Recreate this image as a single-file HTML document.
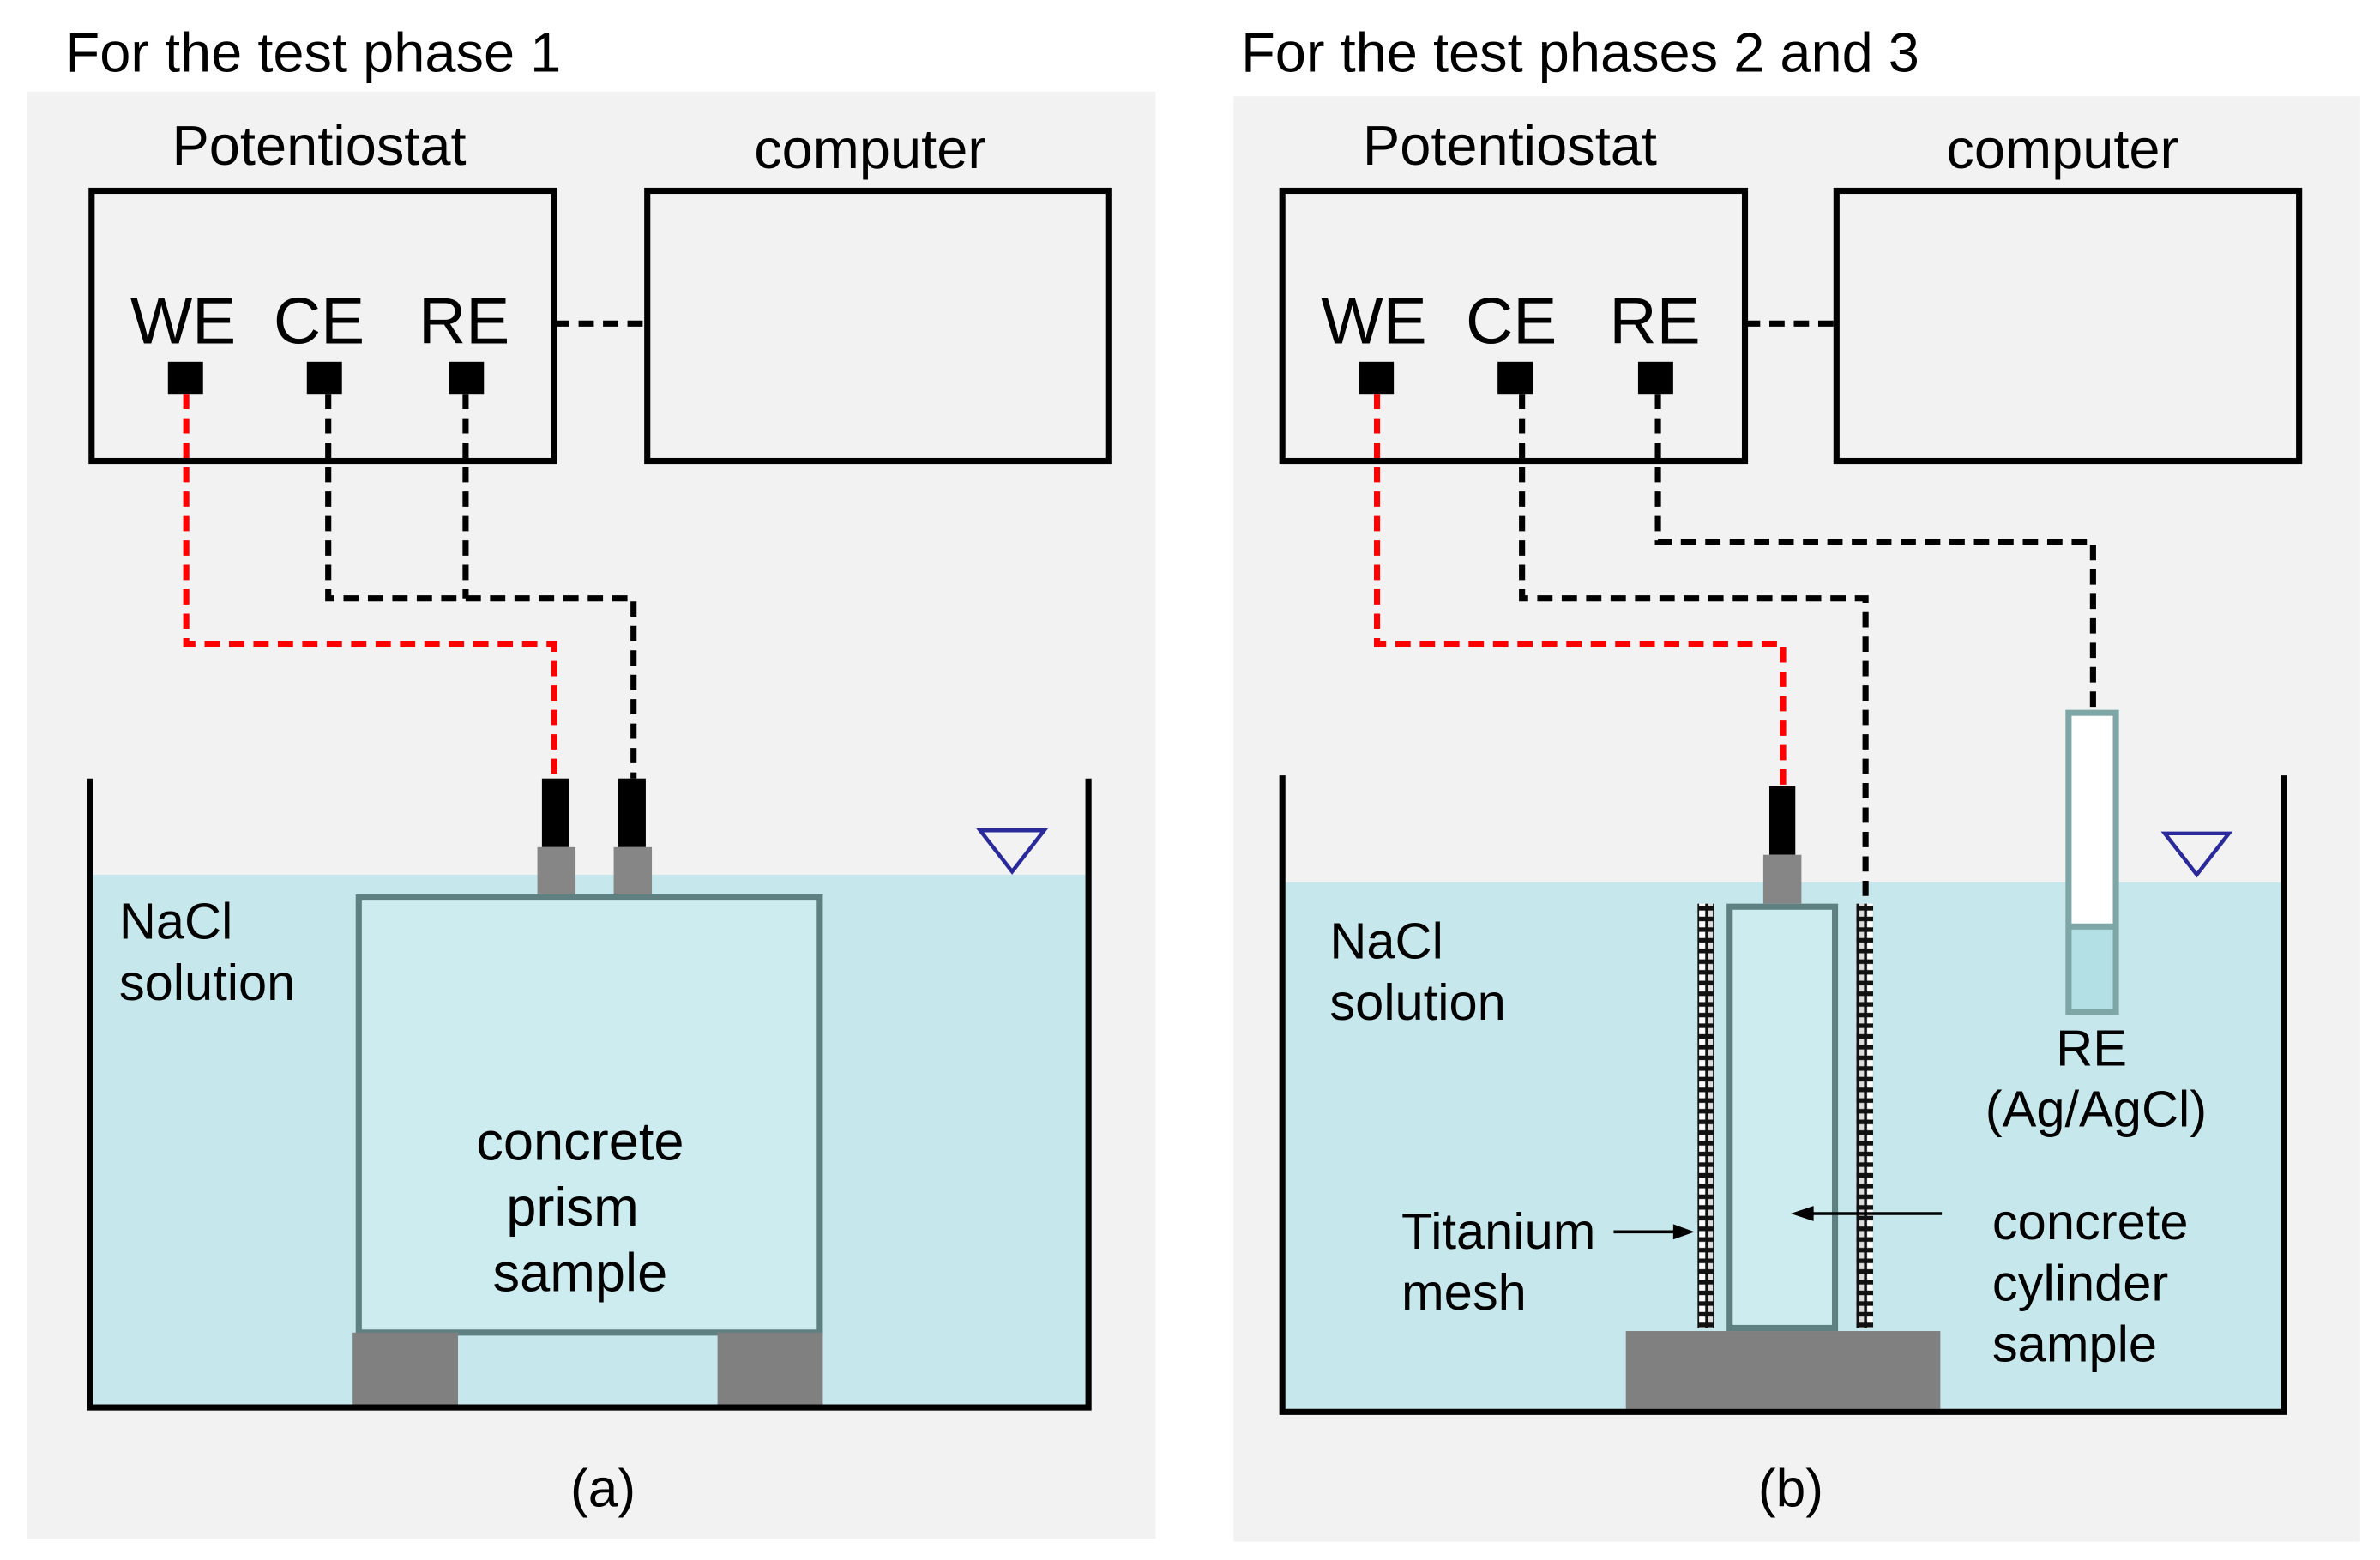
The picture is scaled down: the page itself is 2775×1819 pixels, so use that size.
<!DOCTYPE html>
<html><head><meta charset="utf-8"><style>
html,body{margin:0;padding:0;background:#fff;}
svg{display:block;}
text{font-family:"Liberation Sans",Arial,sans-serif;fill:#000;}
</style></head><body>
<svg width="2775" height="1819" viewBox="0 0 1559 1022" preserveAspectRatio="none" xmlns="http://www.w3.org/2000/svg">
<defs>
<pattern id="mesh" x="0" y="0" width="11" height="7" patternUnits="userSpaceOnUse">
<rect width="11" height="7" fill="#111"/>
<rect x="2" y="1.5" width="4" height="4" fill="#fff"/>
<rect x="8" y="1.5" width="3" height="4" fill="#ddd"/>
</pattern>
</defs>
<rect width="1559" height="1022" fill="#fff"/>
<!-- LEFT PANEL -->
<rect x="18" y="60" width="739" height="948" fill="#f2f2f2"/>
<text x="43" y="47" font-size="36.5">For the test phase 1</text>
<text x="209" y="108" font-size="36.5" text-anchor="middle">Potentiostat</text>
<text x="570" y="110" font-size="36.5" text-anchor="middle">computer</text>
<rect x="60" y="125" width="303" height="177" fill="none" stroke="#000" stroke-width="4"/>
<rect x="424" y="125" width="302" height="177" fill="none" stroke="#000" stroke-width="4"/>
<text x="120" y="225" font-size="43" text-anchor="middle">WE</text>
<text x="209" y="225" font-size="43" text-anchor="middle">CE</text>
<text x="304" y="225" font-size="43" text-anchor="middle">RE</text>
<rect x="110" y="237" width="23" height="21" fill="#000"/>
<rect x="201" y="237" width="23" height="21" fill="#000"/>
<rect x="294" y="237" width="23" height="21" fill="#000"/>
<line x1="363" y1="212" x2="424" y2="212" stroke="#000" stroke-width="4" stroke-dasharray="10,6"/>
<rect x="61" y="573" width="650" height="348" fill="#c6e7eb"/>
<polyline points="122,258 122,422 363,422 363,510" fill="none" stroke="#f00" stroke-width="4" stroke-dasharray="10,6"/>
<polyline points="215,258 215,392 415,392 415,510" fill="none" stroke="#000" stroke-width="4" stroke-dasharray="10,6"/>
<line x1="305" y1="258" x2="305" y2="392" stroke="#000" stroke-width="4" stroke-dasharray="10,6"/>
<rect x="355" y="510" width="18" height="45" fill="#000"/>
<rect x="352" y="555" width="25" height="32" fill="#868686"/>
<rect x="405" y="510" width="18" height="45" fill="#000"/>
<rect x="402" y="555" width="25" height="32" fill="#868686"/>
<rect x="235" y="588" width="302" height="285" fill="#cdecef" stroke="#5f8080" stroke-width="4"/>
<rect x="231" y="873" width="69" height="49" fill="#808080"/>
<rect x="470" y="873" width="69" height="49" fill="#808080"/>
<polyline points="59,510 59,922 713,922 713,510" fill="none" stroke="#000" stroke-width="4"/>
<polygon points="642,544 684,544 663,571" fill="none" stroke="#2a2a9a" stroke-width="2.5"/>
<text x="78" y="615" font-size="33.5">NaCl</text>
<text x="78" y="655" font-size="33.5">solution</text>
<text x="380" y="760" font-size="35.5" text-anchor="middle">concrete</text>
<text x="375" y="803" font-size="35.5" text-anchor="middle">prism</text>
<text x="380" y="846" font-size="35.5" text-anchor="middle">sample</text>
<text x="395" y="987" font-size="35" text-anchor="middle">(a)</text>
<!-- RIGHT PANEL -->
<rect x="808" y="63" width="738" height="947" fill="#f2f2f2"/>
<text x="813" y="47" font-size="36.5">For the test phases 2 and 3</text>
<text x="989" y="108" font-size="36.5" text-anchor="middle">Potentiostat</text>
<text x="1351" y="110" font-size="36.5" text-anchor="middle">computer</text>
<rect x="840" y="125" width="303" height="177" fill="none" stroke="#000" stroke-width="4"/>
<rect x="1203" y="125" width="303" height="177" fill="none" stroke="#000" stroke-width="4"/>
<text x="900" y="225" font-size="43" text-anchor="middle">WE</text>
<text x="990" y="225" font-size="43" text-anchor="middle">CE</text>
<text x="1084" y="225" font-size="43" text-anchor="middle">RE</text>
<rect x="890" y="237" width="23" height="21" fill="#000"/>
<rect x="981" y="237" width="23" height="21" fill="#000"/>
<rect x="1073" y="237" width="23" height="21" fill="#000"/>
<line x1="1143" y1="212" x2="1203" y2="212" stroke="#000" stroke-width="4" stroke-dasharray="10,6"/>
<rect x="842" y="578" width="652" height="345" fill="#c6e7eb"/>
<polyline points="902,258 902,422 1168,422 1168,515" fill="none" stroke="#f00" stroke-width="4" stroke-dasharray="10,6"/>
<polyline points="997,258 997,392 1222,392 1222,592" fill="none" stroke="#000" stroke-width="4" stroke-dasharray="10,6"/>
<polyline points="1086,258 1086,355 1371,355 1371,467" fill="none" stroke="#000" stroke-width="4" stroke-dasharray="10,6"/>
<rect x="1159" y="515" width="17" height="45" fill="#000"/>
<rect x="1155" y="560" width="25" height="32" fill="#868686"/>
<rect x="1112" y="592" width="11" height="278" fill="url(#mesh)"/>
<rect x="1216" y="592" width="11" height="278" fill="url(#mesh)"/>
<rect x="1133" y="594" width="69" height="276" fill="#cdecef" stroke="#5f8080" stroke-width="4"/>
<rect x="1065" y="872" width="206" height="51" fill="#808080"/>
<rect x="1355" y="467" width="31" height="196" fill="#b3e0e5" stroke="#7fa6a6" stroke-width="4"/>
<rect x="1357" y="469" width="27" height="138" fill="#fff"/>
<line x1="1355" y1="607" x2="1386" y2="607" stroke="#7fa6a6" stroke-width="4"/>
<polyline points="840,508 840,925 1496,925 1496,508" fill="none" stroke="#000" stroke-width="4"/>
<polygon points="1418,546 1460,546 1439,573" fill="none" stroke="#2a2a9a" stroke-width="2.5"/>
<text x="871" y="628" font-size="33.5">NaCl</text>
<text x="871" y="668" font-size="33.5">solution</text>
<text x="1370" y="698" font-size="33.5" text-anchor="middle">RE</text>
<text x="1373" y="738" font-size="33.5" text-anchor="middle">(Ag/AgCl)</text>
<text x="918" y="818" font-size="33.5">Titanium</text>
<text x="918" y="858" font-size="33.5">mesh</text>
<line x1="1057" y1="807" x2="1098" y2="807" stroke="#000" stroke-width="2"/>
<polygon points="1110,807 1096,802 1096,812" fill="#000"/>
<line x1="1272" y1="795" x2="1186" y2="795" stroke="#000" stroke-width="2"/>
<polygon points="1173,795 1188,790 1188,800" fill="#000"/>
<text x="1305" y="812" font-size="33.5">concrete</text>
<text x="1305" y="852" font-size="33.5">cylinder</text>
<text x="1305" y="892" font-size="33.5">sample</text>
<text x="1173" y="987" font-size="35" text-anchor="middle">(b)</text>
</svg>
</body></html>
